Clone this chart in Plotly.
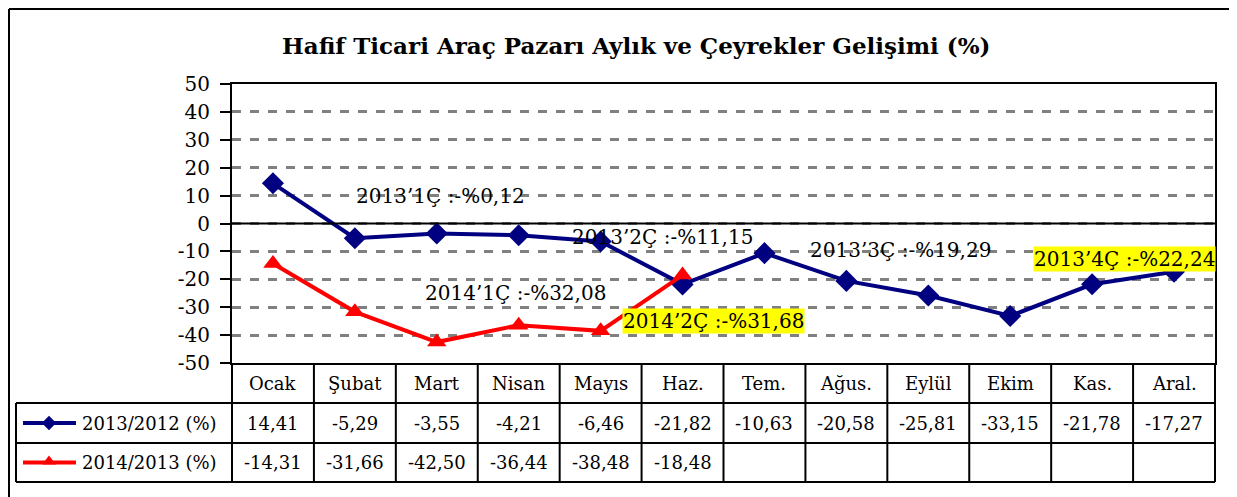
import plotly.graph_objects as go

months = ["Ocak", "Şubat", "Mart", "Nisan", "Mayıs", "Haz.", "Tem.", "Ağus.", "Eylül", "Ekim", "Kas.", "Aral."]
s2013 = [14.41, -5.29, -3.55, -4.21, -6.46, -21.82, -10.63, -20.58, -25.81, -33.15, -21.78, -17.27]
s2014 = [-14.31, -31.66, -42.50, -36.44, -38.48, -18.48]
name2013 = "2013/2012 (%)"
name2014 = "2014/2013 (%)"
yticks = [50, 40, 30, 20, 10, 0, -10, -20, -30, -40, -50]
ytick_labels = ["50", "40", "30", "20", "10", "0", "-10", "-20", "-30", "-40", "-50"]
title = "Hafif Ticari Araç Pazarı Aylık ve Çeyrekler Gelişimi (%)"
notes = [
    ("2013’1Ç :-%0,12", 2.04, 9.8, None),
    ("2013’2Ç :-%11,15", 4.76, -4.9, None),
    ("2014’1Ç :-%32,08", 2.96, -25.0, None),
    ("2014’2Ç :-%31,68", 5.38, -35.0, "yellow"),
    ("2013’3Ç :-%19,29", 7.66, -9.6, None),
    ("2013’4Ç :-%22,24", 10.4, -12.8, "yellow"),
]

OFF = 8  # page body margin
W, H = 1237 - OFF, 497 - OFF
PL, PR, PT, PB = 232 - OFF, 1215 - OFF, 84 - OFF, 363 - OFF
ROW1, ROW2, ROW3 = 403 - OFF, 443 - OFF, 482 - OFF
LEGL = 16 - OFF
BLUE = "#000080"
RED = "#FF0000"
FONT = "DejaVu Serif, Liberation Serif, serif"

fig = go.Figure()
x = list(range(len(months)))
fig.add_trace(go.Scatter(x=x, y=s2013, mode="lines+markers", name=name2013,
                         line=dict(color=BLUE, width=4),
                         marker=dict(symbol="diamond", size=17, color=BLUE),
                         xaxis="x", yaxis="y", showlegend=False))
fig.add_trace(go.Scatter(x=x[:len(s2014)], y=s2014, mode="lines+markers", name=name2014,
                         line=dict(color=RED, width=4),
                         marker=dict(symbol="triangle-up", size=17, color=RED),
                         xaxis="x", yaxis="y", showlegend=False))

# legend glyphs in the data table (pixel overlay axes)
rowc1 = (ROW1 + ROW2) / 2
rowc2 = (ROW2 + ROW3) / 2
gx = [23 - OFF, 49 - OFF, 76 - OFF]
fig.add_trace(go.Scatter(x=gx, y=[rowc1] * 3, mode="lines", line=dict(color=BLUE, width=4),
                         xaxis="x2", yaxis="y2", showlegend=False, hoverinfo="skip"))
fig.add_trace(go.Scatter(x=[gx[1]], y=[rowc1], mode="markers", marker=dict(symbol="diamond", size=11, color=BLUE),
                         xaxis="x2", yaxis="y2", showlegend=False, hoverinfo="skip"))
fig.add_trace(go.Scatter(x=gx, y=[rowc2] * 3, mode="lines", line=dict(color=RED, width=4),
                         xaxis="x2", yaxis="y2", showlegend=False, hoverinfo="skip"))
fig.add_trace(go.Scatter(x=[gx[1]], y=[rowc2 - 1], mode="markers", marker=dict(symbol="triangle-up", size=12, color=RED),
                         xaxis="x2", yaxis="y2", showlegend=False, hoverinfo="skip"))

shapes = []
ann = []
BL = dict(color="black", width=2)
# outer border
OB_L, OB_R, OB_T = 1, 1233 - OFF, 1
shapes.append(dict(type="line", xref="x2", yref="y2", x0=OB_L, x1=OB_R, y0=OB_T, y1=OB_T, line=BL))
shapes.append(dict(type="line", xref="x2", yref="y2", x0=OB_L, x1=OB_L, y0=OB_T, y1=H, line=BL))
shapes.append(dict(type="line", xref="x2", yref="y2", x0=OB_R, x1=OB_R, y0=OB_T, y1=H, line=BL))
# table lines
n = len(months)
colw = (PR - PL) / n
for yy in (ROW1, ROW2, ROW3):
    shapes.append(dict(type="line", xref="x2", yref="y2", x0=LEGL, x1=PR, y0=yy, y1=yy, line=BL))
shapes.append(dict(type="line", xref="x2", yref="y2", x0=LEGL, x1=LEGL, y0=ROW1, y1=ROW3, line=BL))
for i in range(n + 1):
    xx = PL + i * colw
    shapes.append(dict(type="line", xref="x2", yref="y2", x0=xx, x1=xx, y0=PB, y1=ROW3, line=BL))
# zero line
shapes.append(dict(type="line", xref="paper", yref="y", x0=PL / W, x1=PR / W, y0=0, y1=0, line=BL))


def fmt(v):
    return f"{v:.2f}".replace(".", ",")


TF = dict(family=FONT, size=18, color="black")
for i, m in enumerate(months):
    cx = PL + (i + 0.5) * colw
    ann.append(dict(xref="x2", yref="y2", x=cx, y=(PB + ROW1) / 2, text=m, showarrow=False, font=TF))
    ann.append(dict(xref="x2", yref="y2", x=cx, y=rowc1, text=fmt(s2013[i]), showarrow=False, font=TF))
    if i < len(s2014):
        ann.append(dict(xref="x2", yref="y2", x=cx, y=rowc2, text=fmt(s2014[i]), showarrow=False, font=TF))
ann.append(dict(xref="x2", yref="y2", x=80 - OFF, y=rowc1, text=name2013, showarrow=False, xanchor="left", font=TF))
ann.append(dict(xref="x2", yref="y2", x=80 - OFF, y=rowc2, text=name2014, showarrow=False, xanchor="left", font=TF))

for t, xx, yy, bg in notes:
    d = dict(xref="x", yref="y", x=xx, y=yy, text=t, showarrow=False,
             font=dict(family=FONT, size=20, color="black"), borderpad=0)
    if bg:
        d["bgcolor"] = bg
    ann.append(d)

ann.append(dict(xref="x2", yref="y2", x=636 - OFF, y=45 - OFF, text="<b>" + title + "</b>", showarrow=False,
                font=dict(family=FONT, size=23, color="black")))

fig.update_layout(
    width=W, height=H,
    margin=dict(l=0, r=0, t=0, b=0, pad=0, autoexpand=False),
    paper_bgcolor="white", plot_bgcolor="rgba(0,0,0,0)",
    xaxis=dict(domain=[PL / W, PR / W], range=[-0.5, n - 0.5], showticklabels=False, ticks="",
               showgrid=False, zeroline=False, showline=True, mirror=True, linecolor="black", linewidth=2,
               automargin=False),
    yaxis=dict(domain=[1 - PB / H, 1 - PT / H], range=[-50, 50],
               tickmode="array", tickvals=yticks, ticktext=ytick_labels,
               ticks="outside", ticklen=10, tickwidth=2, tickcolor="black", ticklabelstandoff=6,
               tickfont=dict(family=FONT, size=20, color="black"),
               showgrid=True, gridcolor="#808080", griddash="dash", gridwidth=2.5,
               zeroline=False, showline=True, mirror=True, linecolor="black", linewidth=2,
               automargin=False),
    xaxis2=dict(domain=[0, 1], range=[0, W], visible=False, fixedrange=True, automargin=False),
    yaxis2=dict(domain=[0, 1], range=[H, 0], visible=False, fixedrange=True, anchor="x2", automargin=False),
    shapes=shapes, annotations=ann,
)

fig.write_html("out.html")
